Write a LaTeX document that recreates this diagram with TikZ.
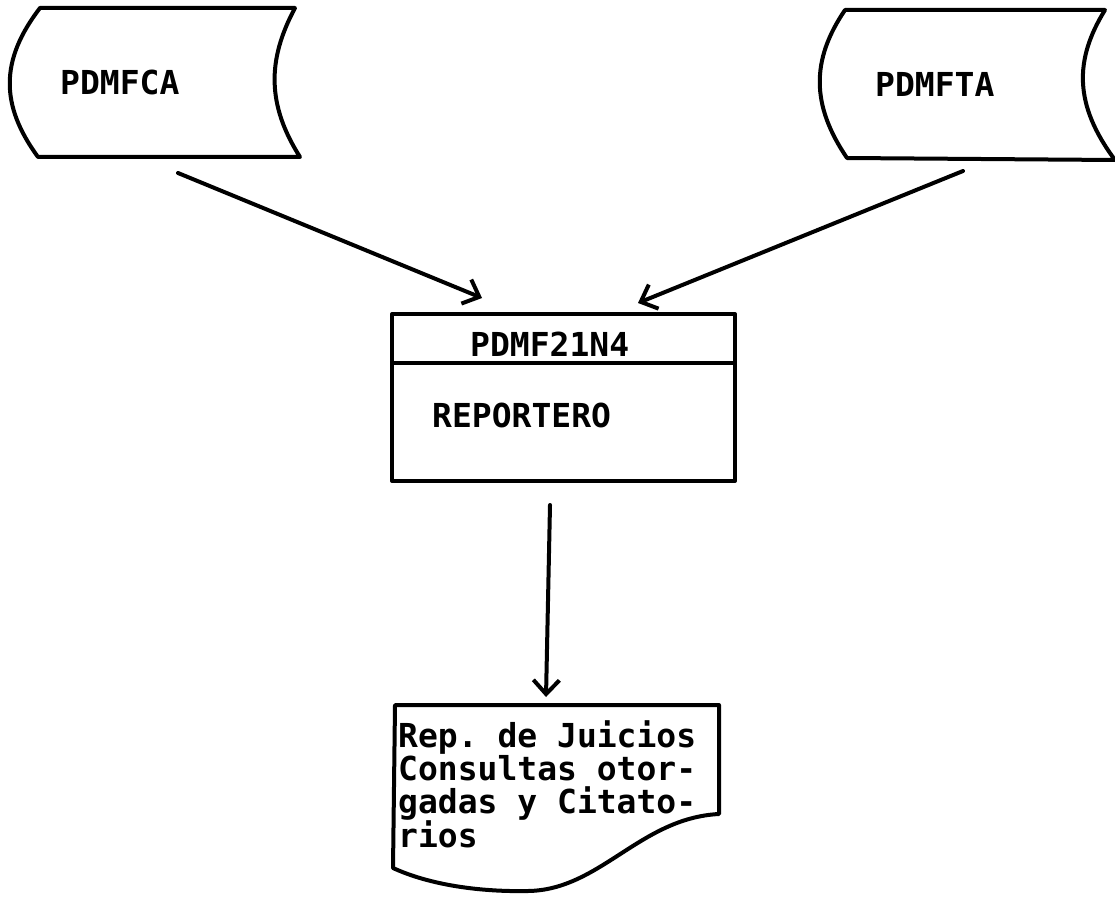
\documentclass[tikz,border=0pt]{standalone}
\usepackage{fontspec}
\setmonofont{DejaVu Sans Mono}
\usetikzlibrary{arrows.meta}
\begin{document}
\begin{tikzpicture}[x=1pt,y=-1pt,
  ln/.style={line width=4pt, line join=round, line cap=round},
  lbl/.style={font=\ttfamily\bfseries\fontsize{33}{33.3}\selectfont, inner sep=0pt, anchor=base west},
  flow/.style={ln, -{Straight Barb[length=14pt,width=26pt,line width=4pt]}}]
\useasboundingbox (0,0) rectangle (1115,904);
\fill[white] (0,0) rectangle (1115,904);

% left storage
\draw[ln] (40,8) -- (295,8) .. controls (267,60) and (267,105) .. (300,157)
  -- (38,157) .. controls (0,105) and (0,60) .. (40,8) -- cycle;
\node[lbl] (fca) at (60,95) {PDMFCA};

% right storage
\draw[ln] (845,10) -- (1105,10) .. controls (1074,60) and (1074,105) .. (1115,160)
  -- (847,158) .. controls (811,105) and (811,60) .. (845,10) -- cycle;
\node[lbl] (fta) at (875,97) {PDMFTA};

% process box
\node[ln, draw, rectangle, minimum width=343pt, minimum height=167pt, inner sep=0pt]
  (proc) at (563.5,397.5) {};
\draw[line width=4pt] (proc.west |- 0,363) -- (proc.east |- 0,363);
\node[lbl] (pname) at (470,356) {PDMF21N4};
\node[lbl] (pdesc) at (432,427) {REPORTERO};

% document
\draw[ln] (393,868) -- (395,705) -- (719,705) -- (719,814)
  .. controls (640,818) and (600,890) .. (528,891)
  .. controls (480,892) and (430,885) .. (393,868) -- cycle;
\node[lbl] (d1) at (398,747) {Rep. de Juicios};
\node[lbl] (d2) at (398,780) {Consultas otor-};
\node[lbl] (d3) at (398,813) {gadas y Citato-};
\node[lbl] (d4) at (398,847) {rios};

% connector end points
\coordinate (a1s) at (178,173);
\coordinate (a1e) at (482,298);
\coordinate (a2s) at (963,171);
\coordinate (a2e) at (638,303);
\coordinate (a3s) at (550,505);
\coordinate (a3e) at (546,697);

\draw[flow] (a1s) -- (a1e);
\draw[flow] (a2s) -- (a2e);
\draw[flow] (a3s) -- (a3e);
\end{tikzpicture}
\end{document}
